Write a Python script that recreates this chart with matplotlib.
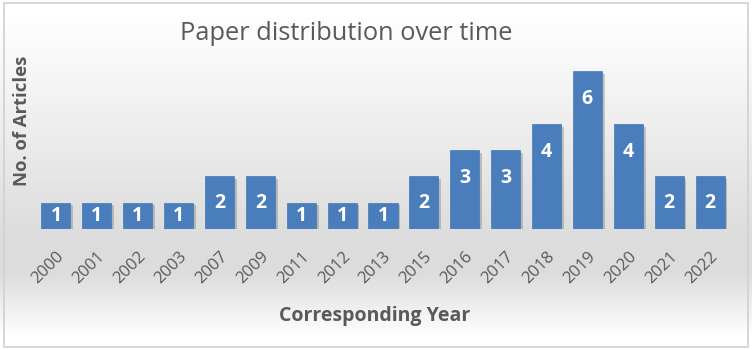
import numpy as np
import matplotlib
matplotlib.use("Agg")
import matplotlib.pyplot as plt
import matplotlib.patheffects as pe
from matplotlib.patches import Rectangle

years = ["2000", "2001", "2002", "2003", "2007", "2009", "2011", "2012", "2013",
         "2015", "2016", "2017", "2018", "2019", "2020", "2021", "2022"]
counts = [1, 1, 1, 1, 2, 2, 1, 1, 1, 2, 3, 3, 4, 6, 4, 2, 2]

W, H = 752, 350
fig = plt.figure(figsize=(W / 100, H / 100), dpi=100)

# background gradient: white -> grey -> white
bg = fig.add_axes([0, 0, 1, 1], zorder=-10)
rows = np.linspace(0, 1, 350)
lev = np.interp(rows, [0, 0.03, 0.68, 0.78, 0.97, 1.0],
                [1.0, 1.0, 0.86, 0.86, 1.0, 1.0])
img = np.repeat(lev[:, None], 10, axis=1)
bg.imshow(img, cmap="gray", vmin=0, vmax=1, aspect="auto", extent=[0, 1, 1, 0])
bg.set_xlim(0, 1)
bg.set_ylim(1, 0)
bg.axis("off")
bg.add_patch(Rectangle((4 / W, 3 / H), (W - 8) / W, (H - 6) / H, fill=False,
                       edgecolor="#d0d0d0", lw=1.2, transform=bg.transAxes))

# plot area in pixels
left, right = 35.5, 730.5
base, top = 229, 45
unit = 26.3
ax = fig.add_axes([left / W, 1 - base / H, (right - left) / W, (base - top) / H])
ax.patch.set_alpha(0)
x = np.arange(len(years))
bars = ax.bar(x, counts, width=0.71, color="#4a7dbb", edgecolor="#4577b3", lw=0.5,
              zorder=3)
for b in bars:
    b.set_path_effects([pe.SimplePatchShadow(offset=(2, -2), shadow_rgbFace="#000000",
                                             alpha=0.18), pe.Normal()])
ax.set_xlim(-0.5, len(years) - 0.5)
ax.set_ylim(0, (base - top) / unit)
for xi, v in zip(x, counts):
    ax.text(xi, max(v - 28 / unit, v / 2), str(v), ha="center", va="center",
            color="white", fontsize=14, fontweight="bold", family="Open Sans",
            zorder=5)

for s in ax.spines.values():
    s.set_visible(False)
ax.set_yticks([])
ax.set_xticks(x)
ax.set_xticklabels(years, rotation=45, ha="right", rotation_mode="anchor",
                   fontsize=12, color="#595959", family="Open Sans")
ax.tick_params(axis="x", length=0, pad=14)

fig.text(346 / W, 1 - 33 / H, "Paper distribution over time", ha="center",
         va="center", fontsize=18.3, color="#595959", family="Open Sans")
fig.text(22 / W, 1 - 121 / H, "No. of Articles", ha="center", va="center",
         rotation=90, fontsize=13.3, fontweight="bold", color="#595959",
         family="Open Sans")
fig.text(375 / W, 1 - 316 / H, "Corresponding Year", ha="center", va="center",
         fontsize=14, fontweight="bold", color="#595959", family="Open Sans")

fig.savefig("out.png", dpi=100)
